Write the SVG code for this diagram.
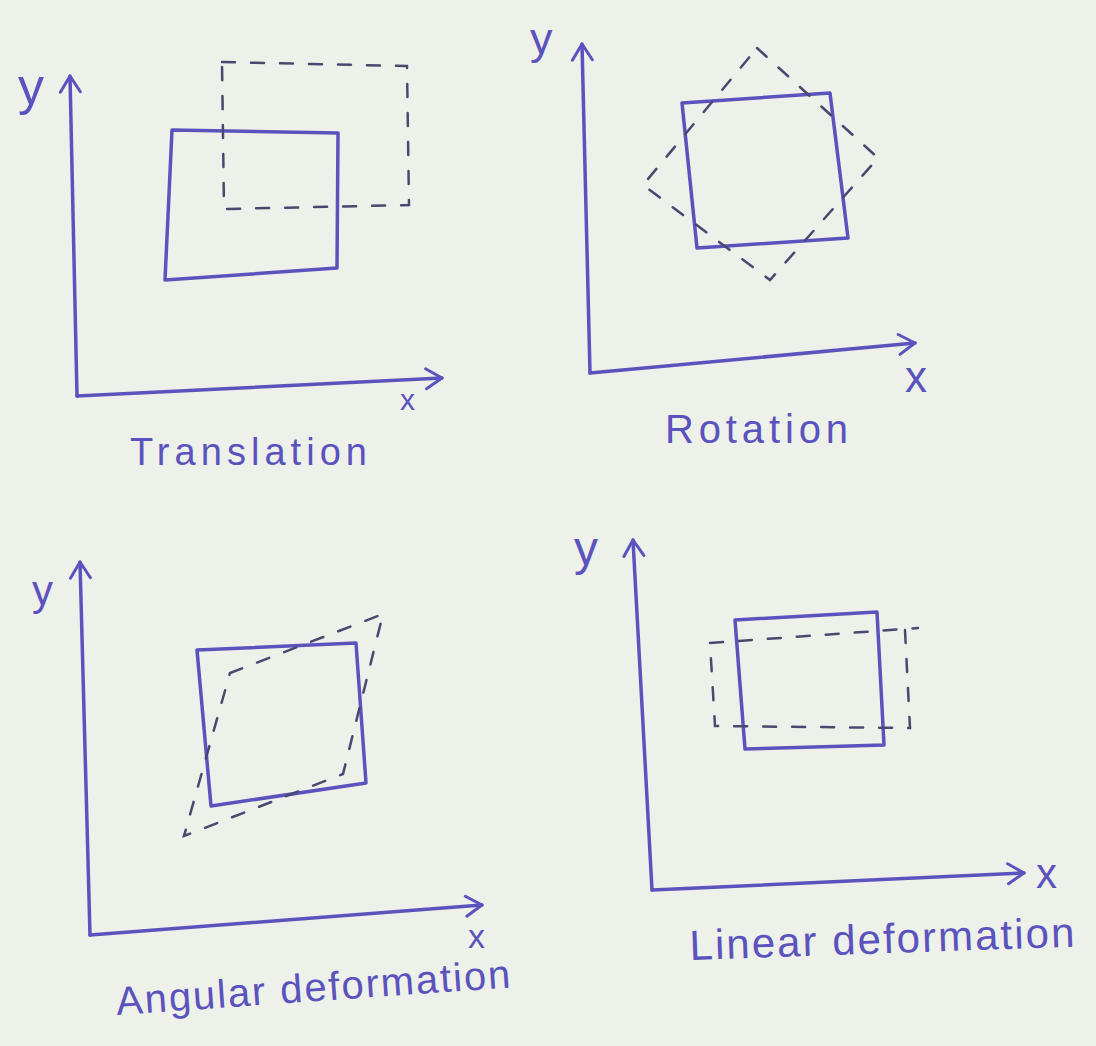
<svg xmlns="http://www.w3.org/2000/svg" width="1096" height="1046" viewBox="0 0 1096 1046">
<defs>
<style>
.ink{fill:none;stroke:#5b53bd;stroke-width:3.5;stroke-linejoin:round;stroke-linecap:round}
.dash{fill:none;stroke:#4a4870;stroke-width:2.5;stroke-dasharray:13 16;stroke-linecap:round}
.lbl{font-family:"Liberation Sans",Arial,sans-serif;fill:#5b53bd}
.ax{fill:none;stroke:#5b53bd;stroke-width:3.5;stroke-linecap:round}
</style>
<marker id="arr" markerUnits="userSpaceOnUse" markerWidth="24" markerHeight="26" refX="18" refY="12" orient="auto" viewBox="0 0 24 24">
<path d="M2,2 L18,12 L2,22" fill="none" stroke="#5b53bd" stroke-width="3" stroke-linecap="round" stroke-linejoin="round"/>
</marker>
</defs>
<rect width="1096" height="1046" fill="#eef0ea"/>

<g id="connectors">
<path class="ax" d="M77,396 L70,76" marker-end="url(#arr)"/>
<path class="ax" d="M77,396 L442,378" marker-end="url(#arr)"/>
<path class="ax" d="M590,373 L582,44" marker-end="url(#arr)"/>
<path class="ax" d="M590,373 L915,343" marker-end="url(#arr)"/>
<path class="ax" d="M90,935 L80,562" marker-end="url(#arr)"/>
<path class="ax" d="M90,935 L482,905" marker-end="url(#arr)"/>
<path class="ax" d="M652,890 L633,540" marker-end="url(#arr)"/>
<path class="ax" d="M652,890 L1024,873" marker-end="url(#arr)"/>
</g>

<g id="translation">
<path class="ink" d="M172,130 L338,133 L337,268 L165,280 Z"/>
<path class="dash" d="M222,62 L407,66 L409,205 L224,209 Z"/>
<text class="lbl" x="18" y="104" font-size="52">y</text>
<text class="lbl" x="400" y="410" font-size="30">x</text>
<text class="lbl" x="130" y="465" font-size="38" textLength="237">Translation</text>
</g>

<g id="rotation">
<path class="ink" d="M682,103 L830,93 L848,238 L697,248 Z"/>
<path class="dash" d="M757,48 L878,158 L770,280 L643,185 Z"/>
<text class="lbl" x="530" y="54" font-size="45">y</text>
<text class="lbl" x="905" y="392" font-size="44">x</text>
<text class="lbl" x="665" y="443" font-size="40" textLength="183">Rotation</text>
</g>

<g id="angular">
<path class="ink" d="M197,650 L356,643 L366,783 L211,806 Z"/>
<path class="dash" d="M230,673 L383,614 L343,774 L184,836 Z"/>
<text class="lbl" x="32" y="605" font-size="42">y</text>
<text class="lbl" x="468" y="948" font-size="34">x</text>
<text class="lbl" x="117" y="1015" font-size="40" textLength="395" transform="rotate(-4 117 1015)">Angular deformation</text>
</g>

<g id="linear">
<path class="ink" d="M735,620 L877,612 L884,745 L745,749 Z"/>
<path class="dash" d="M710,643 L918,628"/>
<path class="dash" d="M905,630 L910,728 L715,726 L710,643"/>
<text class="lbl" x="574" y="565" font-size="48">y</text>
<text class="lbl" x="1036" y="888" font-size="42">x</text>
<text class="lbl" x="690" y="960" font-size="42" textLength="385" transform="rotate(-2 690 960)">Linear deformation</text>
</g>
</svg>
